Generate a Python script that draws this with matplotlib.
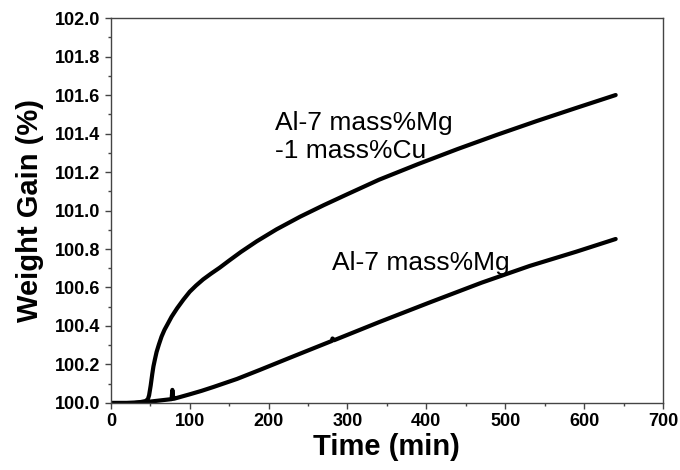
import matplotlib
matplotlib.use('Agg')
import matplotlib.pyplot as plt
from matplotlib.ticker import MultipleLocator, FormatStrFormatter

# Al-7 mass%Mg-1 mass%Cu
t_cu = [0, 20, 30, 38, 44, 47, 48.5, 49.5, 50.5, 51.5, 52.5, 54, 55.8, 58, 61,
        64.3, 68, 72, 77, 84, 92, 100, 108, 117, 127, 138, 150, 165, 185, 210,
        240, 270, 300, 340, 390, 440, 490, 540, 590, 640]
w_cu = [100.0, 100.0, 100.002, 100.005, 100.01, 100.02, 100.04, 100.065,
        100.09, 100.12, 100.15, 100.19, 100.225, 100.265, 100.305, 100.345,
        100.38, 100.41, 100.448, 100.492, 100.537, 100.578, 100.61, 100.642,
        100.672, 100.703, 100.74, 100.785, 100.84, 100.902, 100.968, 101.028,
        101.085, 101.16, 101.242, 101.32, 101.394, 101.465, 101.533, 101.60]

# Al-7 mass%Mg
t_mg = [0, 30, 40, 45, 60, 77, 78, 79, 80, 100, 115, 130, 145, 160, 189, 227,
        255, 280, 281, 283, 340, 404, 470, 531, 590, 640]
w_mg = [100.0, 100.0, 100.003, 100.005, 100.012, 100.02, 100.068, 100.03,
        100.022, 100.045, 100.063, 100.083, 100.104, 100.125, 100.172, 100.235,
        100.281, 100.322, 100.335, 100.326, 100.42, 100.522, 100.625, 100.712,
        100.786, 100.852]

plt.rcParams['font.family'] = ['Liberation Sans', 'DejaVu Sans']

fig = plt.figure(figsize=(6.8, 4.7), dpi=100)
ax = fig.add_axes([0.163, 0.1426, 0.812, 0.819])

ax.plot(t_cu, w_cu, color='black', linewidth=3, solid_capstyle='round')
ax.plot(t_mg, w_mg, color='black', linewidth=3, solid_capstyle='round')

ax.text(208, 101.515, 'Al-7 mass%Mg\n-1 mass%Cu', fontsize=19, ha='left',
        va='top', linespacing=1.2)
ax.text(280, 100.691, 'Al-7 mass%Mg', fontsize=19, ha='left', va='baseline')

ax.set_xlim(0, 700)
ax.set_ylim(100.0, 102.0)
ax.xaxis.set_major_locator(MultipleLocator(100))
ax.xaxis.set_minor_locator(MultipleLocator(50))
ax.yaxis.set_major_locator(MultipleLocator(0.2))
ax.yaxis.set_minor_locator(MultipleLocator(0.1))
ax.yaxis.set_major_formatter(FormatStrFormatter('%.1f'))

ax.tick_params(which='major', direction='out', length=4.5, width=1,
               color='#444444', labelsize=13, pad=3)
ax.tick_params(which='minor', direction='out', length=2.5, width=1,
               color='#444444')
for lbl in ax.get_xticklabels() + ax.get_yticklabels():
    lbl.set_fontweight('bold')
for s in ax.spines.values():
    s.set_color('#444444')
    s.set_linewidth(1)

ax.set_xlabel('Time (min)', fontsize=21, fontweight='bold', labelpad=2)
ax.set_ylabel('Weight Gain (%)', fontsize=21, fontweight='bold', labelpad=8)

fig.savefig('out.png', dpi=100)
